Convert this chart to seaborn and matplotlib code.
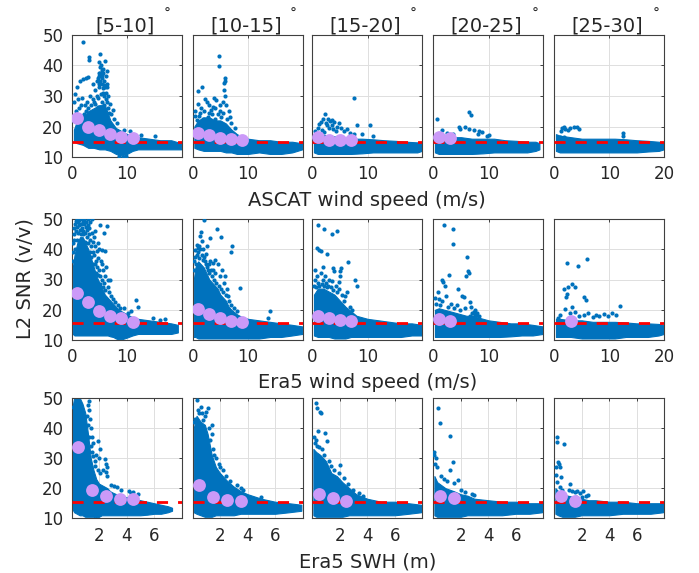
import matplotlib
matplotlib.use("Agg")
import matplotlib.pyplot as plt
import seaborn as sns
import pandas as pd

# ---------------- text ----------------
angle_bins = ["[5-10]", "[10-15]", "[15-20]", "[20-25]", "[25-30]"]
row_xlabels = ["ASCAT wind speed (m/s)", "Era5 wind speed (m/s)", "Era5 SWH (m)"]
y_label = "L2 SNR (v/v)"
y_ticks = [10, 20, 30, 40, 50]
wind_ticks = [0, 10, 20]
swh_ticks = [2, 4, 6]

# threshold (red dashed) per row
threshold = [14.9, 15.5, 15.3]

# ---------------- binned means (purple) ----------------
wind_bin_x = [1, 3, 5, 7, 9, 11]
swh_bin_x = [0.5, 1.5, 2.5, 3.5, 4.5]
mean_ascat = [[22.7, 19.7, 18.9, 17.5, 16.5, 16.2],
              [17.8, 17.2, 16.3, 15.8, 15.5],
              [16.5, 15.7, 15.5, 15.5],
              [16.6, 16.2],
              []]
mean_era5ws = [[25.4, 22.7, 19.7, 17.9, 17.2, 16.1],
               [20.3, 18.5, 17.2, 16.3, 15.9],
               [18.0, 17.2, 16.6, 16.4],
               [16.9, 16.4],
               [None, 16.4]]
mean_swh = [[33.8, 19.4, 17.4, 16.3, 16.4],
            [21.0, 17.2, 16.1, 15.9],
            [18.1, 16.6, 15.9],
            [17.5, 16.6],
            [17.5, 15.9]]

# ---------------- dense core of each scatter cloud (x, lower, upper) ----------------
# Row 1: ASCAT wind speed
a1_x = [0.4, 1, 2, 3, 4, 5, 6, 7, 8, 9, 10, 11, 12, 14, 16, 18, 19.8]
a1_lo = [15, 14.5, 14, 13, 13, 12.5, 12.5, 12, 11, 10.5, 11, 12, 12.5, 12.5, 12.5, 12.5, 12.5]
a1_hi = [19, 22, 23, 25, 26, 27, 27, 22, 19.5, 18.5, 17.5, 17, 16.5, 16, 15.5, 15.5, 14.5]
a2_x = [0.3, 1, 2, 3, 4, 5, 6, 7, 8, 9, 10, 12, 14, 16, 18, 19.8]
a2_lo = [13, 12.5, 12, 12, 12, 12, 11.5, 11.5, 11, 11, 11, 11.5, 11, 11, 11.5, 12.5]
a2_hi = [20, 22, 23, 23, 22, 22, 21, 19, 17.5, 16.5, 16, 15.5, 15.5, 15, 15, 14.5]
a3_x = [0.3, 1, 3, 5, 7, 9, 11, 13, 15, 17, 19, 19.8]
a3_lo = [11.5, 11, 11, 11, 11, 11.2, 11.5, 11.5, 11.5, 11.5, 11.5, 12]
a3_hi = [17.5, 17.5, 17, 16.5, 16, 16, 15.8, 15.5, 15.3, 15, 14.8, 14.5]
a4_x = [0.3, 1, 3, 5, 7, 9, 11, 13, 15, 17, 18.5, 19.2]
a4_lo = [11.5, 11, 11, 11, 11, 11.2, 11.5, 11.5, 11.5, 11.5, 12, 12.5]
a4_hi = [17.5, 17, 16.5, 16.5, 16, 16, 16, 15.5, 15.3, 15, 15, 14.5]
a5_x = [0.3, 1, 3, 5, 7, 9, 11, 13, 15, 17, 19, 19.9]
a5_lo = [12, 11.5, 11.5, 11.5, 11.5, 11.5, 11.5, 11.5, 11.5, 11.8, 12, 12.5]
a5_hi = [17.5, 17, 16.5, 16, 16, 16, 16, 15.8, 15.5, 15.3, 15, 14.8]

# Row 2: Era5 wind speed
e1_x = [0.2, 0.5, 1, 1.5, 2, 2.5, 3, 3.5, 4, 4.5, 5, 5.5, 6, 6.5, 7, 7.5, 8, 8.5, 9, 9.5, 10, 11,
        12, 14, 16, 18, 19.2]
e1_lo = [12, 11.5, 11.5, 11.5, 11.5, 11.5, 11.5, 11.5, 11.5, 11.5, 11.5, 11.5, 11.5, 11.5, 11.2,
         11, 10.5, 10.2, 10.2, 10.5, 10.8, 11.5, 12, 12, 12, 12, 12.5]
e1_hi = [34, 38, 42, 44, 44, 42, 40, 37, 34, 31, 29, 27, 25, 24, 23, 22, 21, 20, 19.5, 19, 18.5,
         17.5, 17, 16.5, 16, 15.5, 15]
e2_x = [0.2, 0.5, 1, 1.5, 2, 2.5, 3, 3.5, 4, 4.5, 5, 5.5, 6, 6.5, 7, 8, 9, 10, 12, 14, 16, 18, 19.8]
e2_lo = [11, 11, 10.5, 10.5, 10.5, 10.5, 10.5, 10.5, 10.5, 10.5, 10.5, 10.5, 10.5, 10.5, 10.5,
         10.5, 10.5, 10.5, 10.5, 11, 11, 11.5, 12]
e2_hi = [30, 34, 36, 35, 34, 32, 30, 29, 28, 27, 25, 24, 23, 21, 20, 18.5, 17.5, 17, 16.5, 16,
         15.5, 15, 14.5]
e3_x = [0.3, 1, 2, 3, 4, 5, 6, 7, 8, 9, 10, 12, 14, 16, 18, 19.8]
e3_lo = [11.5, 11, 11, 11, 10.5, 10.5, 10.5, 11, 11, 11, 11, 11, 11, 11, 11.5, 11.5]
e3_hi = [25, 27, 27, 26, 25, 23, 21, 19.5, 18, 17.5, 17, 16.5, 16, 15.5, 15.5, 15]
e4_x = [0.3, 1, 2, 3, 4, 5, 6, 7, 8, 9, 10, 12, 14, 16, 18, 19.8]
e4_lo = [11, 11, 11, 11, 11, 11, 11, 11, 11, 11, 11, 11, 11.2, 11.5, 11.5, 12]
e4_hi = [20, 20.5, 20, 19.5, 19, 18.5, 18, 18, 17.5, 17, 16.5, 16, 15.5, 15.5, 15, 14.5]
e5_x = [0.3, 1, 3, 5, 7, 9, 11, 13, 15, 17, 19, 19.9]
e5_lo = [11, 11, 11, 10.5, 10.5, 10.5, 10.5, 11, 11, 11, 11.5, 12]
e5_hi = [17, 17, 16.5, 16.5, 16, 16, 16, 15.8, 15.5, 15.5, 15.3, 15]

# Row 3: Era5 SWH
s1_x = [0.08, 0.2, 0.4, 0.6, 0.8, 1.0, 1.2, 1.4, 1.6, 1.8, 2.0, 2.2, 2.4, 2.6, 2.8, 3.0, 3.5, 4,
        4.5, 5, 5.5, 6, 6.5, 7, 7.3]
s1_lo = [13, 12, 11.5, 11, 11, 10.5, 10.5, 10.5, 10.5, 10.2, 10.5, 11, 11, 11, 11, 11, 11, 11, 11,
         11, 11.2, 11.5, 11.5, 12, 12.5]
s1_hi = [47, 50, 50, 50, 48, 45, 38, 30, 26, 23, 21.5, 21, 20.5, 20, 19, 18.5, 17.5, 17, 16.5, 16,
         15.5, 15, 14.5, 14, 13.5]
s2_x = [0.1, 0.3, 0.6, 0.9, 1.1, 1.4, 1.7, 2.0, 2.5, 3, 3.5, 4, 5, 6, 7, 7.9]
s2_lo = [12, 11.5, 11, 10.5, 10.5, 10.5, 11, 11, 11, 11, 11.5, 11.5, 11.5, 11.5, 12, 12.5]
s2_hi = [40, 44, 42, 41, 38, 31, 27, 25, 22.5, 20.5, 19, 18, 16.5, 15.5, 15, 14.5]
s3_x = [0.1, 0.3, 0.6, 1.0, 1.4, 1.8, 2.2, 2.7, 3.2, 4, 5, 6, 7, 7.9]
s3_lo = [11, 10.5, 10.5, 10.5, 10.5, 10.5, 10.5, 11, 11, 11, 11, 11, 11.5, 12]
s3_hi = [33, 32, 31, 29, 25, 24, 22, 20, 18, 16.5, 15.5, 15.5, 15, 14.5]
s4_x = [0.1, 0.3, 0.6, 0.9, 1.2, 1.5, 2, 2.5, 3, 4, 5, 6, 7, 7.9]
s4_lo = [11, 10.5, 10.5, 10.5, 10.5, 10.5, 10.5, 11, 11, 11, 11, 11.5, 11.5, 12]
s4_hi = [24, 22, 21, 20, 19.5, 19, 18, 17.5, 16.5, 16, 15.5, 15.5, 15, 15]
s5_x = [0.1, 0.3, 0.6, 1, 1.5, 2, 2.5, 3, 4, 5, 6, 7, 7.9]
s5_lo = [11.5, 11, 10.5, 10.5, 10.5, 11, 11, 11, 11, 11.5, 11.5, 11.5, 12]
s5_hi = [20, 19, 18, 17.5, 17, 16.5, 16, 16, 15.5, 15.5, 15, 15, 15]

# ---------------- sparse scatter points (x, y) ----------------
a1_pts = [(2.1, 47.6), (3.2, 42.7), (3.1, 41.8), (5.2, 43.8), (5.0, 41), (5.3, 40), (5.1, 39.5),
          (5.4, 38.5), (5.6, 39), (6.1, 41.6), (6.3, 38.3), (1.5, 35), (2.0, 35.5), (2.5, 36),
          (2.9, 36.3), (0.9, 33), (0.6, 30.8), (0.4, 28), (1.2, 29), (1.6, 27), (3.8, 34),
          (4.2, 32), (4.8, 36), (5.2, 35), (5.8, 35), (6.0, 33), (6.2, 31), (6.5, 30), (6.4, 28),
          (6.6, 26), (4.5, 30), (4.0, 28), (3.5, 27), (3.0, 26), (2.5, 25), (5.5, 28), (5.9, 27),
          (6.0, 25), (7.2, 24), (7.6, 22.5), (8.2, 21), (0.3, 22), (0.8, 25), (1.3, 26),
          (4.7, 26.5), (5.7, 31), (4.9, 33), (10.5, 18.5), (9.5, 19), (12.5, 17.2), (15, 16.8),
          (8.5, 10.3), (9.2, 10.1), (9.8, 10.2), (5.3, 37), (5.5, 36), (6.2, 36.5), (5.0, 34),
          (6.4, 34), (5.6, 32.5), (4.4, 25.5), (3.2, 24.5), (2.2, 24), (1.8, 23.5), (6.8, 24.5),
          (4.6, 35), (4.9, 37.5), (5.0, 36.5), (5.2, 37.5), (5.4, 36.8), (5.6, 37.6), (5.5, 34),
          (5.9, 33.5), (6.3, 33), (6.2, 29), (5.8, 30), (5.3, 30.5), (4.8, 29.5), (4.3, 27.5),
          (3.8, 29), (3.3, 30), (2.8, 28), (1.9, 29.5), (6.9, 27.5), (7.4, 25.5), (2.4, 27)]
a2_pts = [(4.7, 43.1), (4.7, 39.8), (0.9, 31.7), (1.7, 32.8), (5.8, 36), (5.8, 35), (5.6, 34.1),
          (3.8, 29.2), (4.3, 28.6), (2.5, 28), (3.0, 27), (1.5, 26), (1.0, 27.5), (0.5, 25),
          (2.0, 25), (4.0, 26), (5.0, 27), (5.5, 28), (6.0, 27), (6.5, 25), (3.5, 24), (4.5, 24),
          (2.7, 23), (5.2, 23), (6.2, 22.5), (7.0, 21), (1.2, 23.5), (0.8, 22), (2.2, 29), (3.3, 25.5),
          (1.9, 22.5), (4.1, 22.5), (5.9, 30), (5.7, 32), (1.4, 24.5), (2.9, 24.5), (3.6, 26.5),
          (4.9, 25), (5.4, 24.5), (6.7, 23), (0.4, 23.5), (7.6, 19.5)]
a3_pts = [(7.5, 29.4), (2.3, 24.2), (2.0, 22.5), (2.8, 22.3), (3.2, 21.8), (3.6, 22), (4.0, 21.5),
          (2.5, 21), (3.5, 20.5), (1.3, 20.8), (1.0, 19.5), (1.7, 19), (4.5, 20), (5.2, 19.5),
          (6.2, 19.3), (5.8, 18.5), (8.1, 20.4), (10.5, 20.4), (3.0, 19.5), (4.2, 18.5), (2.2, 18.2),
          (6.8, 18), (0.5, 18.5), (9.0, 17.5), (11.0, 17), (7.5, 17.5), (1.5, 21.5), (2.7, 20.5),
          (3.8, 19.2), (4.8, 21)]
a4_pts = [(0.6, 22.6), (1.5, 18.8), (4.6, 19.9), (4.9, 19.3), (6.4, 24.8), (6.9, 23.9), (5.8, 19.9),
          (6.4, 19.3), (7.3, 19), (8.2, 18.4), (8.9, 18.2), (9.8, 16.8), (10.1, 17.1), (2.5, 18),
          (3.5, 17.5), (8.0, 17.5)]
a5_pts = [(1.4, 19.5), (1.7, 19.9), (2.0, 19.3), (2.9, 19.6), (3.5, 19.9), (4.1, 19.9), (4.4, 19.3),
          (12.5, 17.9), (12.5, 16.8), (1.0, 16.6), (1.7, 16.4), (1.2, 18.5), (2.4, 18.7)]

e1_pts = [(0.3, 42), (0.4, 45), (0.5, 47), (0.6, 48.5), (0.5, 43), (0.7, 49.5), (0.8, 46), (0.9, 50),
          (1.0, 47.5), (1.1, 49), (1.2, 45.5), (1.3, 48), (1.4, 49.7), (1.5, 46.5), (1.6, 48.5),
          (1.7, 45), (1.8, 50), (1.9, 47), (2.0, 49), (2.1, 46), (2.2, 48.2), (2.3, 49.8), (2.4, 45.5),
          (2.5, 47.5), (2.6, 49), (2.7, 44), (2.8, 46.5), (2.9, 50), (3.0, 48), (3.1, 45), (3.2, 47),
          (3.3, 43), (3.4, 49), (3.5, 41), (3.6, 45.5), (3.7, 50), (3.8, 42.5), (3.9, 39), (4.0, 44),
          (4.1, 38), (4.2, 41), (4.3, 46), (4.4, 36), (4.5, 39.5), (4.6, 34), (4.7, 42), (4.8, 37),
          (4.9, 33), (5.0, 40), (5.1, 31), (5.2, 48), (5.3, 36), (5.4, 30), (5.5, 39.8), (5.6, 33),
          (5.8, 45.4), (5.9, 29), (6.1, 39.3), (5.7, 27.5), (6.4, 47.8), (6.2, 34), (6.5, 27.5),
          (6.7, 26), (7.0, 30), (7.2, 24.5), (7.5, 23.5), (7.9, 22.5), (8.3, 21.5), (11.7, 23.3),
          (12.0, 21), (10.8, 19.5), (14.7, 17.2), (16.0, 16.6), (16.9, 16.8), (18.6, 13.5),
          (9.5, 20.5), (0.2, 36), (0.3, 39), (1.6, 43), (2.4, 42.5), (3.3, 39), (3.9, 35),
          (4.4, 32), (4.2, 35), (0.6, 40), (1.0, 43), (2.0, 45), (2.9, 42), (3.5, 37.5), (4.8, 31.5),
          (5.2, 28.5), (6.0, 26.5), (6.6, 30), (5.5, 35), (6.0, 31), (8.8, 20.5), (10.2, 19)]
e2_pts = [(2.0, 49.6), (1.5, 45.6), (1.3, 44.3), (1.7, 42.6), (0.7, 41.5), (0.4, 39.8), (3.2, 43.7),
          (4.4, 46.7), (5.2, 43.9), (7.1, 41.2), (6.9, 39), (8.6, 27.1), (13.9, 19.7), (13.6, 17.2),
          (0.3, 36), (0.5, 37.5), (0.8, 38), (1.0, 39), (1.2, 37), (1.4, 40), (1.6, 38), (1.8, 36.5),
          (2.0, 37.5), (2.2, 36), (2.4, 35), (2.6, 34), (2.8, 33), (3.0, 32), (0.6, 35), (0.9, 40.5),
          (1.1, 41), (1.9, 40), (3.3, 33), (3.5, 31), (3.7, 35.5), (3.9, 30), (4.1, 32), (4.3, 29),
          (4.5, 35), (4.7, 28), (4.9, 31), (5.1, 27), (5.3, 33), (5.5, 26), (5.7, 29), (6.0, 25),
          (6.3, 24.5), (6.6, 23), (7.0, 21.5), (7.5, 20.5), (8.0, 19.5), (3.2, 36), (4.0, 36.5),
          (2.4, 38.5), (2.9, 35), (3.6, 33), (0.2, 33), (5.8, 31), (6.2, 27), (2.5, 41)]
e3_pts = [(1.1, 48.1), (2.2, 46.7), (3.5, 45.1), (4.5, 46), (0.9, 40.4), (1.3, 39.8), (1.5, 39.3),
          (2.7, 38.5), (6.5, 35.7), (5.2, 33.8), (5.0, 32.7), (5.1, 31), (4.9, 29.3), (3.7, 33.8),
          (4.0, 32.7), (7.8, 29.7), (8.1, 27.7), (6.3, 26), (6.0, 24.6), (0.3, 28), (0.5, 30),
          (0.7, 27.5), (0.9, 31), (1.1, 29), (1.3, 28), (1.5, 32), (1.7, 28.5), (1.9, 30), (2.1, 28),
          (2.3, 31), (2.5, 29), (2.7, 27.5), (2.9, 28), (3.1, 30), (3.3, 27.5), (3.5, 29.5),
          (3.8, 26.5), (4.2, 28), (4.5, 26), (4.8, 27), (5.4, 25), (5.7, 23), (6.8, 21), (7.2, 20),
          (0.4, 33), (2.0, 34)]
e4_pts = [(2.0, 48.1), (3.5, 46.7), (3.5, 41.8), (6.1, 37.6), (6.3, 32.7), (6.5, 32.1), (6.0, 31.2),
          (2.9, 31.5), (1.5, 29.9), (1.8, 29.3), (2.1, 27.7), (0.9, 26), (2.3, 24.4), (4.4, 27),
          (5.2, 24.6), (5.5, 24.1), (6.7, 22.7), (6.9, 21), (7.3, 19.4), (7.6, 18.5), (7.9, 19),
          (8.2, 18), (7.0, 18.8), (6.7, 18), (7.2, 17.7), (0.5, 22), (1.2, 21.5), (1.6, 23),
          (2.7, 21), (3.2, 22), (3.8, 20.5), (4.2, 21.5), (4.8, 20), (5.8, 20.5), (0.3, 24),
          (1.0, 23.5), (7.5, 19.8), (7.8, 18.2)]
e5_pts = [(2.3, 35.6), (6.0, 36.7), (4.3, 34.5), (3.2, 28.6), (2.5, 27.5), (1.7, 27), (3.8, 27.5),
          (2.3, 25.2), (2.2, 24.1), (5.4, 24.1), (5.7, 23.3), (11.9, 21.3), (1.9, 20.2), (3.8, 19.4),
          (5.4, 18.2), (6.2, 18.8), (7.0, 17.5), (7.5, 18.3), (8.2, 17.8), (9.0, 18.5), (9.7, 18),
          (10.5, 18.8), (11.2, 18.2), (1.0, 18.3), (0.7, 17.4), (4.5, 18), (2.8, 19), (3.3, 21)]

s1_pts = [(0.15, 47), (1.3, 49), (1.25, 46), (1.35, 43), (1.4, 40), (1.5, 37), (1.6, 35), (1.9, 35.5),
          (2.1, 33), (1.8, 31), (1.7, 29), (2.0, 30), (2.45, 29.6), (2.5, 28), (2.55, 27),
          (2.5, 25.5), (2.6, 24), (2.3, 26), (2.9, 21), (3.1, 20.8), (3.3, 20.5), (3.6, 19.5),
          (4.2, 19), (4.5, 18.8), (4.8, 18.2), (4.3, 18.5), (1.2, 41), (1.3, 37), (1.4, 34),
          (1.5, 32), (1.6, 30.5), (1.7, 27.5), (1.9, 26), (2.1, 25), (1.1, 44), (1.2, 47.5)]
s2_pts = [(0.3, 49.4), (1.1, 46.5), (1.0, 45.4), (0.9, 43.9), (0.8, 42.6), (0.5, 44.8), (1.45, 40.9),
          (0.2, 43), (0.4, 46), (0.7, 45), (0.6, 47), (1.2, 40), (1.3, 36), (1.5, 33), (1.6, 31),
          (1.7, 30), (1.9, 28), (2.2, 26), (2.4, 24), (2.7, 22.5), (3.2, 21), (3.5, 20), (3.7, 19.5),
          (5.0, 17), (0.15, 42), (1.4, 38), (2.0, 27)]
s3_pts = [(0.27, 48.1), (0.39, 46.5), (0.56, 45.4), (0.63, 44.8), (0.44, 39.1), (0.92, 38.4),
          (1.1, 35.6), (2.0, 27.7), (1.95, 24.9), (0.2, 35), (0.35, 34), (0.7, 33), (0.9, 31),
          (1.2, 29), (1.4, 27.5), (1.6, 26), (2.3, 23.5), (2.6, 21.5), (3.0, 19.5), (3.4, 18.5),
          (3.7, 17.5), (0.15, 37), (0.5, 33.5), (0.3, 36)]
s4_pts = [(0.36, 46.7), (0.48, 41.7), (1.24, 37.3), (1.45, 28.8), (0.05, 32), (0.1, 31), (0.2, 30),
          (0.15, 28), (0.3, 27), (1.2, 26), (1.8, 22.7), (1.5, 21.8), (0.6, 24), (0.8, 23), (1.0, 22.5),
          (2.0, 19.5), (2.3, 18.8), (2.8, 18), (3.0, 17.8)]
s5_pts = [(0.22, 36.9), (0.22, 35.4), (0.7, 34.5), (0.3, 28.8), (0.36, 28), (0.17, 26.9), (0.41, 26.9),
          (0.12, 24.4), (0.53, 23.6), (1.14, 21.4), (0.22, 22.2), (1.1, 19.4), (1.3, 19), (1.5, 18.8),
          (1.7, 19.2), (1.9, 18.3), (2.1, 18.9), (2.3, 17.5), (2.5, 17.8), (1.6, 17.2), (2.0, 17),
          (0.4, 20.5), (0.6, 19.5)]

# ---------------- styling ----------------
sns.set_theme(style="white")
plt.rcParams["font.family"] = ["DejaVu Sans"]
BLUE = "#0072BD"
PURPLE = "#CB9AF8"
DARK = "#262626"

W, H = 699, 573
fig = plt.figure(figsize=(W / 100, H / 100), dpi=100)

col_left = [71.7, 192.7, 312.3, 433.3, 554.3]
col_w = 110
row_top = [35, 219, 397.7]
row_bot = [157, 340, 518.3]
degree_dx = [40, 45, 46, 47, 47]

cores = [
    [(a1_x, a1_lo, a1_hi), (a2_x, a2_lo, a2_hi), (a3_x, a3_lo, a3_hi), (a4_x, a4_lo, a4_hi), (a5_x, a5_lo, a5_hi)],
    [(e1_x, e1_lo, e1_hi), (e2_x, e2_lo, e2_hi), (e3_x, e3_lo, e3_hi), (e4_x, e4_lo, e4_hi), (e5_x, e5_lo, e5_hi)],
    [(s1_x, s1_lo, s1_hi), (s2_x, s2_lo, s2_hi), (s3_x, s3_lo, s3_hi), (s4_x, s4_lo, s4_hi), (s5_x, s5_lo, s5_hi)],
]
sparse = [[a1_pts, a2_pts, a3_pts, a4_pts, a5_pts],
          [e1_pts, e2_pts, e3_pts, e4_pts, e5_pts],
          [s1_pts, s2_pts, s3_pts, s4_pts, s5_pts]]
means = [mean_ascat, mean_era5ws, mean_swh]
bin_x = [wind_bin_x, wind_bin_x, swh_bin_x]

for r in range(3):
    for c in range(5):
        ax = fig.add_axes([col_left[c] / W, 1 - row_bot[r] / H, col_w / W,
                           (row_bot[r] - row_top[r]) / H])
        ax.set_axisbelow(True)
        cx, lo, hi = cores[r][c]
        ax.fill_between(cx, lo, hi, color=BLUE, linewidth=0.8, edgecolor=BLUE, zorder=2)
        pts = pd.DataFrame(sparse[r][c], columns=["x", "y"])
        sns.scatterplot(data=pts, x="x", y="y", ax=ax, color=BLUE, s=9,
                        linewidth=0, zorder=3)
        ax.axhline(threshold[r], color="red", lw=2, dashes=(4, 3.6), zorder=4)
        m = [(bx, v) for bx, v in zip(bin_x[r], means[r][c]) if v is not None]
        if m:
            md = pd.DataFrame(m, columns=["x", "y"])
            sns.scatterplot(data=md, x="x", y="y", ax=ax, color=PURPLE, s=85,
                            linewidth=0, zorder=5)
        ax.set_ylim(10, 50)
        ax.set_yticks(y_ticks)
        if r < 2:
            ax.set_xlim(0, 20 if c == 4 else 19.9)
            ax.set_xticks(wind_ticks if c == 4 else wind_ticks[:2])
        else:
            ax.set_xlim(0.02, 8)
            ax.set_xticks(swh_ticks)
        ax.set_xlabel("")
        ax.set_ylabel("")
        if c > 0:
            ax.set_yticklabels([])
        ax.grid(True, color="#DEDEDE", lw=0.7)
        ax.tick_params(direction="in", length=2.5, width=0.6, colors=DARK,
                       labelsize=12, pad=6, top=True, right=True,
                       labelcolor=DARK)
        for sp in ax.spines.values():
            sp.set_color("#404040")
            sp.set_linewidth(0.8)
        if r == 0:
            cxp = col_left[c] + col_w / 2
            fig.text((cxp - 2) / W, 1 - 31 / H, angle_bins[c], ha="center",
                     va="baseline", fontsize=14, color=DARK)
            fig.text((cxp + degree_dx[c]) / W, 1 - 18 / H, "\u00b0", ha="center",
                     va="baseline", fontsize=10, color=DARK)

label_base = [206, 388, 568]
for r in range(3):
    fig.text((col_left[2] + col_w / 2) / W, 1 - label_base[r] / H, row_xlabels[r],
             ha="center", va="baseline", fontsize=14, color=DARK)
fig.text(25 / W, 1 - 279 / H, y_label, rotation=90, ha="center", va="center",
         fontsize=14, color=DARK)

fig.savefig("out.png", dpi=100)
